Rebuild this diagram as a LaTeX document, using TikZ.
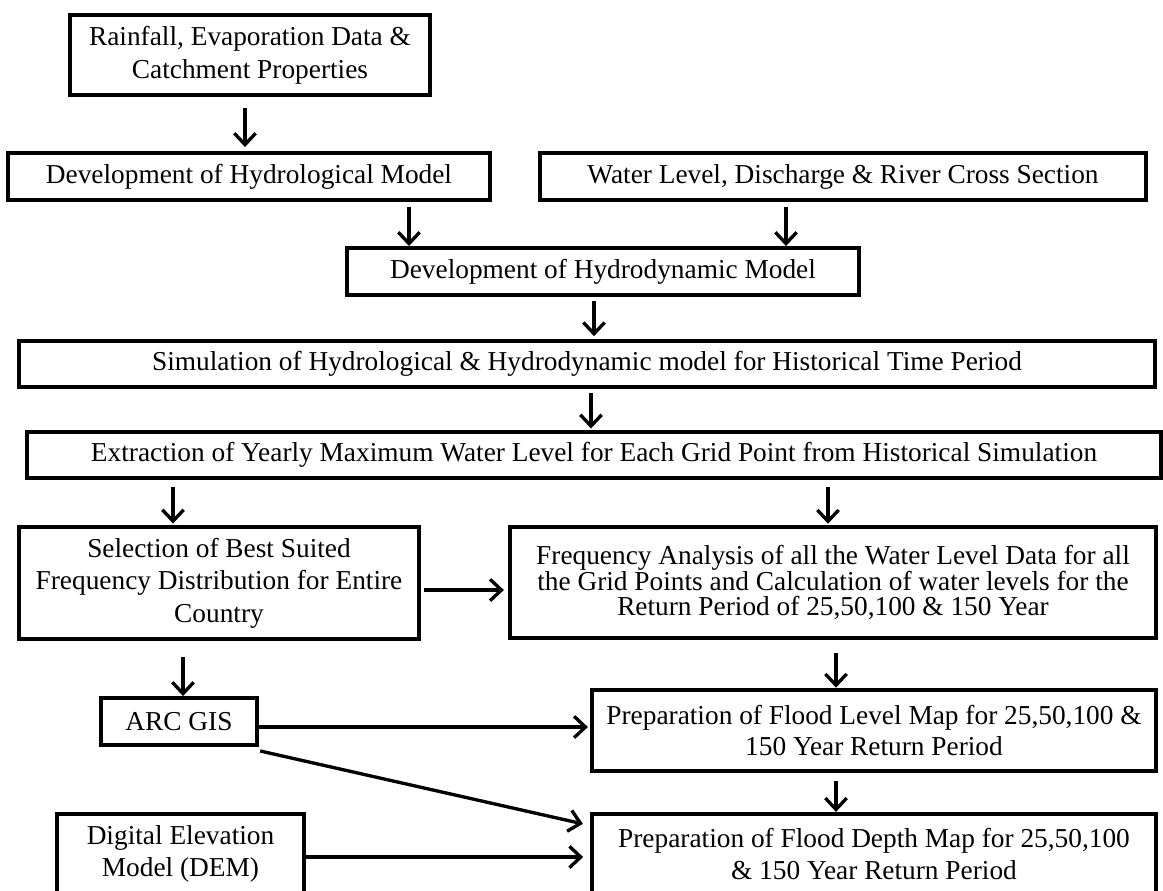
\documentclass[tikz,border=0pt]{standalone}
\usepackage{fontspec}
\setmainfont{Liberation Serif}
\usetikzlibrary{arrows.meta,calc}

\begin{document}
\begin{tikzpicture}[x=0.75pt,y=-0.75pt,
  box/.style={draw,line width=3.2pt,inner sep=0pt,align=center,
    font=\fontsize{20.5}{24.5}\selectfont},
  arr/.style={line width=2.5pt,-{Straight Barb[length=8.5pt,width=16pt,line width=2.5pt]}}]
\useasboundingbox (0,0) rectangle (1163,891);
% boxes
\node[box,minimum width=270pt,minimum height=60pt] (rain) at (250,55) {Rainfall, Evaporation Data \&\\Catchment Properties};
\node[box,minimum width=361.5pt,minimum height=35pt] (hydro) at (249,176.5) {Development of Hydrological Model};
\node[box,minimum width=454.5pt,minimum height=35pt] (water) at (843,176.5) {Water Level, Discharge \& River Cross Section};
\node[box,minimum width=384pt,minimum height=35pt] (dyn) at (603,271.5) {Development of Hydrodynamic Model};
\node[box,minimum width=852pt,minimum height=34.5pt] (sim) at (587,364) {Simulation of Hydrological \& Hydrodynamic model for Historical Time Period};
\node[box,minimum width=850.5pt,minimum height=34.5pt] (extr) at (594,455) {Extraction of Yearly Maximum Water Level for Each Grid Point from Historical Simulation};
\node[box,minimum width=300pt,minimum height=84pt] (sel) at (219,583) {Selection of Best Suited\\Frequency Distribution for Entire\\Country};
\node[box,minimum width=484.5pt,minimum height=83pt,font=\fontsize{20.5}{18.5}\selectfont] (freq) at (833,582.5) {Frequency Analysis of all the Water Level Data for all\\the Grid Points and Calculation of water levels for the\\Return Period of 25,50,100 \& 150 Year};
\node[box,minimum width=117pt,minimum height=35pt] (arc) at (179,721.5) {ARC GIS};
\node[box,minimum width=423pt,minimum height=61pt,font=\fontsize{20.5}{23}\selectfont] (level) at (874,730.5) {Preparation of Flood Level Map for 25,50,100 \&\\150 Year Return Period};
\node[box,minimum width=185pt,minimum height=60pt] (dem) at (180.5,854) {Digital Elevation\\Model (DEM)};
\node[box,minimum width=423pt,minimum height=60pt] (depth) at (874,854) {Preparation of Flood Depth Map for 25,50,100\\\& 150 Year Return Period};
% connectors
\draw[arr,shorten <=8pt,shorten >=3pt] (rain.south -| 245,0) -- (hydro.north -| 245,0);
\draw[arr,shorten <=4pt] (hydro.south -| 409,0) -- (dyn.north -| 409,0);
\draw[arr,shorten <=4pt] (water.south -| 786,0) -- (dyn.north -| 786,0);
\draw[arr,shorten <=3pt,shorten >=2pt] (dyn.south -| 594,0) -- (sim.north -| 594,0);
\draw[arr,shorten <=3pt,shorten >=1pt] (sim.south -| 591,0) -- (extr.north -| 591,0);
\draw[arr,shorten <=5pt,shorten >=1pt] (extr.south -| 173,0) -- (sel.north -| 173,0);
\draw[arr,shorten <=5pt,shorten >=1pt] (extr.south -| 828,0) -- (freq.north -| 828,0);
\draw[arr,shorten <=2pt,shorten >=3pt] (sel.east |- 0,590) -- (freq.west |- 0,590);
\draw[arr,shorten <=12pt] (sel.south -| 183,0) -- (arc.north -| 183,0);
\draw[arr,shorten <=10pt] (freq.south -| 836,0) -- (level.north -| 836,0);
\draw[arr,shorten >=1.5pt] (arc.east |- 0,727) -- (level.west |- 0,727);
\draw[arr] ($(arc.south east)+(1,4)$) -- ($(depth.north west)+(-7,12)$);
\draw[arr,shorten <=6pt] (level.south -| 836,0) -- (depth.north -| 836,0);
\draw[arr,shorten >=5pt] (dem.east |- 0,857) -- (depth.west |- 0,857);
\end{tikzpicture}
\end{document}
